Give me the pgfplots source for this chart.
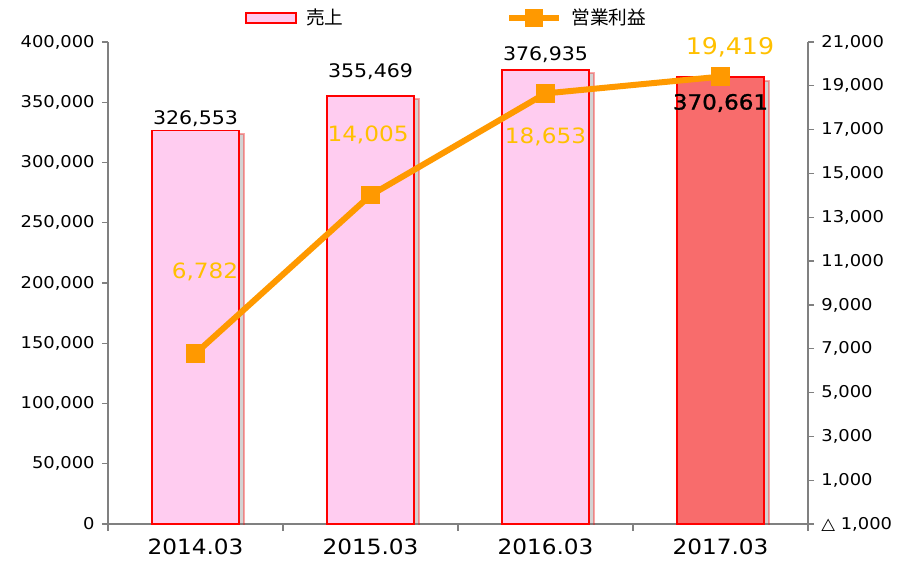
\documentclass[border=0pt]{standalone}
\usepackage{pgfplots}
\pgfplotsset{compat=1.18}
\usepackage{fontspec}
\setmainfont[FakeStretch=1.1]{DejaVu Sans}
\newfontfamily\jp{Noto Sans CJK JP}
\newfontfamily\boldnum[FakeStretch=1.1,FakeBold=1.2]{DejaVu Sans}
\usetikzlibrary{shadows}
\definecolor{barpink}{RGB}{255,204,240}
\definecolor{barred}{RGB}{248,108,108}
\definecolor{lineorange}{RGB}{255,153,0}
\definecolor{labelorange}{RGB}{255,192,0}
\definecolor{axisgray}{RGB}{128,128,128}
\pgfplotsset{
  myaxis/.style={
    width=525pt, height=361.5pt, scale only axis,
    xmin=-0.5, xmax=3.5,
    axis line style={axisgray, line width=1pt},
    tick style={axisgray, line width=1pt},
    major tick length=4.5pt,
    minor tick length=5pt,
    ticklabel style={font=\fontsize{12.2}{14}\selectfont},
  }
}
\begin{document}
\begin{tikzpicture}
\begin{axis}[myaxis,
  ymin=0, ymax=400000,
  axis x line*=bottom, axis y line*=left,
  tick align=outside,
  xtick={0,1,2,3}, xticklabels={2014.03,2015.03,2016.03,2017.03},
  major x tick style={draw=none},
  xticklabel style={font=\fontsize{15.8}{18}\selectfont, yshift=-3pt},
  minor xtick={-0.5,0.5,1.5,2.5,3.5},
  ytick={0,50000,...,400000},
  scaled y ticks=false,
  yticklabel style={/pgf/number format/.cd, fixed, 1000 sep={,}, assume math mode=true, /tikz/.cd, xshift=-2pt},
]
\addplot[ybar, bar shift=0pt, bar width=0.5, fill=barpink, draw=red, line width=1.4pt,
  drop shadow={shadow xshift=3.5pt, shadow yshift=-2.5pt, fill=black!50, opacity=0.35}]
  coordinates {(0,326553) (1,355469) (2,376935)};
\addplot[ybar, bar shift=0pt, bar width=0.5, fill=barred, draw=red, line width=1.4pt,
  drop shadow={shadow xshift=3.5pt, shadow yshift=-2.5pt, fill=black!50, opacity=0.35}]
  coordinates {(3,370661)};
\end{axis}
\begin{axis}[myaxis,
  ymin=-1000, ymax=21000,
  axis y line*=right, axis x line=none,
  tick align=outside,
  clip=false,
  scaled y ticks=false,
  ytick={-1000,1000,3000,5000,7000,9000,11000,13000,15000,17000,19000,21000},
  yticklabels={{△ 1,000},{1,000},{3,000},{5,000},{7,000},{9,000},{11,000},{13,000},{15,000},{17,000},{19,000},{21,000}},
  yticklabel style={xshift=2pt},
  legend columns=2,
  legend style={at={(0.484,1.05)}, anchor=center, draw=none, fill=none,
    font=\jp\fontsize{14}{16}\selectfont,
    /tikz/every odd column/.append style={column sep=5pt},
    /tikz/every even column/.append style={column sep=120pt}},
]
\addlegendimage{legend image code/.code={\draw[fill=barpink, draw=red, line width=1.4pt] (0pt,-3.75pt) rectangle (37.5pt,3.75pt);}}
\addlegendentry{売上}
\addplot[lineorange, line width=4.5pt, mark=square*, mark size=6.5pt,
  mark options={fill=lineorange, draw=lineorange, line width=0pt},
  legend image code/.code={\draw[lineorange, line width=4.5pt] (0pt,0pt) -- (37.5pt,0pt); \fill[lineorange] (14pt,-4.5pt) rectangle (23.5pt,4.5pt);}]
  coordinates {(0,6782) (1,14005) (2,18653) (3,19419)};
\addlegendentry{営業利益}
\node[font=\fontsize{14}{16}\selectfont] at (axis cs:0,17485) {326,553};
\node[font=\fontsize{14}{16}\selectfont] at (axis cs:1,19631) {355,469};
\node[font=\fontsize{14}{16}\selectfont] at (axis cs:2,20407) {376,935};
\node[font=\boldnum\fontsize{15.7}{18}\selectfont] at (axis cs:3,18216) {370,661};
\node[font=\fontsize{15.8}{18}\selectfont, text=labelorange] at (axis cs:0.054,10502) {6,782};
\node[font=\fontsize{15.8}{18}\selectfont, text=labelorange] at (axis cs:0.986,16755) {14,005};
\node[font=\fontsize{15.8}{18}\selectfont, text=labelorange] at (axis cs:2,16664) {18,653};
\node[font=\fontsize{17.2}{19}\selectfont, text=labelorange] at (axis cs:3.054,20772) {19,419};
\end{axis}
\pgfresetboundingbox
\path (-81pt,-30pt) rectangle (598.5pt,393pt);
\end{tikzpicture}
\end{document}
